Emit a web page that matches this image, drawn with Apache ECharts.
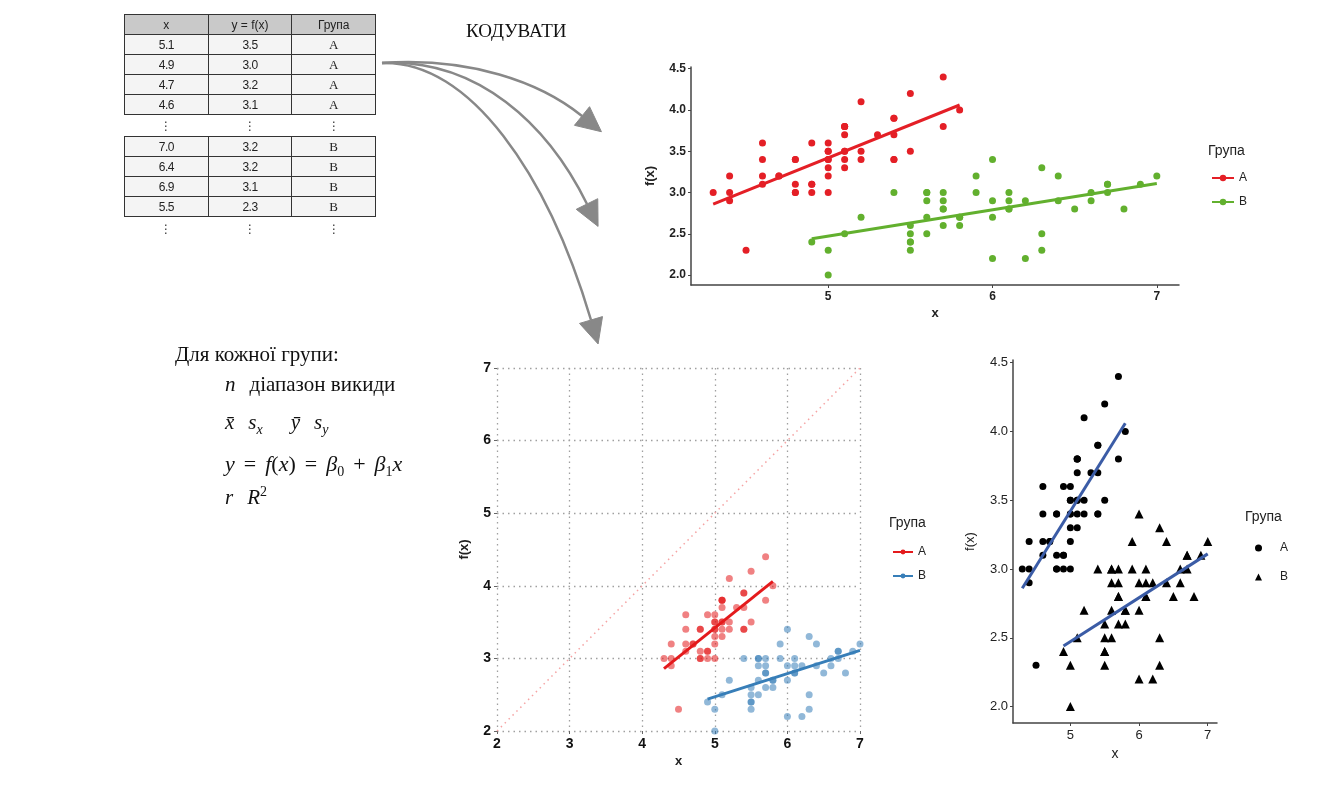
<!DOCTYPE html>
<html>
<head>
<meta charset="utf-8">
<title>Кодувати</title>
<script src="https://cdn.jsdelivr.net/npm/echarts@6/dist/echarts.min.js"></script>
<style>
  body { margin: 0; background: #fff; }
  #page { position: relative; width: 1319px; height: 800px; overflow: hidden; background: #fff; }
  .layer { position: absolute; left: 0; top: 0; width: 1319px; height: 800px; }
  table.src { position: absolute; border-collapse: collapse; table-layout: fixed; width: 252px; z-index: 5;
              font-family: 'Liberation Sans', Arial, sans-serif; font-size: 12px; color: #222; }
  table.src td, table.src th { border: 1.5px solid #333; height: 19px; padding: 0; text-align: center; background: #f4f4f4; letter-spacing: -0.5px; }
  table.src th { background: #c9c9c9; font-weight: normal; letter-spacing: 0; }
  table.src td.g { font-family: 'Liberation Serif', serif; font-size: 13px; letter-spacing: 0; }
  .dots { position: absolute; z-index: 5; font-family: 'DejaVu Sans', sans-serif; font-size: 12px; color: #333; width: 20px; text-align: center; line-height: 16px; }
  .txt { position: absolute; z-index: 5; font-family: 'Liberation Serif', serif; color: #111; white-space: nowrap; }
  .m { font-size: 21px; }
  .m i { font-style: italic; }
  .m sub, .m sup { font-size: 14px; }
  .op { padding: 0 9px; }
  .gap { display: inline-block; width: 14px; }
</style>
</head>
<body>
<div id="page">
  <div id="bg" class="layer"></div>
  <div id="c1" class="layer"></div>
  <div id="c2" class="layer"></div>
  <div id="c3" class="layer"></div>

  <table class="src" id="t1" style="left:124px;top:14px"></table>
  <table class="src" id="t2" style="left:124px;top:136px"></table>

  <div class="txt" style="left:175px;top:342px;font-size:21px">Для кожної групи:</div>
  <div class="txt m" style="left:225px;top:372px"><i>n</i><span class="gap"></span>діапазон викиди</div>
  <div class="txt m" style="left:225px;top:410px"><i>x̄</i><span class="gap"></span><i>s<sub>x</sub></i><span class="gap"></span><span class="gap"></span><i>ȳ</i><span class="gap"></span><i>s<sub>y</sub></i></div>
  <div class="txt m" style="left:225px;top:451px;font-size:22px"><i>y</i><span class="op">=</span><i>f</i>(<i>x</i>)<span class="op">=</span><i>β</i><sub>0</sub><span class="op">+</span><i>β</i><sub>1</sub><i>x</i></div>
  <div class="txt m" style="left:225px;top:484px"><i>r</i><span class="gap"></span><i>R</i><sup>2</sup></div>
</div>

<script>
// table rows shown at the top left
const headRow = ['x', 'y = f(x)', 'Група'];
const topRows = [['5.1', '3.5', 'A'], ['4.9', '3.0', 'A'], ['4.7', '3.2', 'A'], ['4.6', '3.1', 'A']];
const bottomRows = [['7.0', '3.2', 'B'], ['6.4', '3.2', 'B'], ['6.9', '3.1', 'B'], ['5.5', '2.3', 'B']];

// group A (x, f(x))
const aX = [5.1,4.9,4.7,4.6,5.0,5.4,4.6,5.0,4.4,4.9,5.4,4.8,4.8,4.3,5.8,5.7,5.4,5.1,5.7,5.1,5.4,5.1,4.6,5.1,4.8,
            5.0,5.0,5.2,5.2,4.7,4.8,5.4,5.2,5.5,4.9,5.0,5.5,4.9,4.4,5.1,5.0,4.5,4.4,5.0,5.1,4.8,5.1,4.6,5.3,5.0];
const aY = [3.5,3.0,3.2,3.1,3.6,3.9,3.4,3.4,2.9,3.1,3.7,3.4,3.0,3.0,4.0,4.4,3.9,3.5,3.8,3.8,3.4,3.7,3.6,3.3,3.4,
            3.0,3.4,3.5,3.4,3.2,3.1,3.4,4.1,4.2,3.1,3.2,3.5,3.6,3.0,3.4,3.5,2.3,3.2,3.5,3.8,3.0,3.8,3.2,3.7,3.3];
// group B (x, f(x))
const bX = [7.0,6.4,6.9,5.5,6.5,5.7,6.3,4.9,6.6,5.2,5.0,5.9,6.0,6.1,5.6,6.7,5.6,5.8,6.2,5.6,5.9,6.1,6.3,6.1,6.4,
            6.6,6.8,6.7,6.0,5.7,5.5,5.5,5.8,6.0,5.4,6.0,6.7,6.3,5.6,5.5,5.5,6.1,5.8,5.0,5.6,5.7,5.7,6.2,5.1,5.7];
const bY = [3.2,3.2,3.1,2.3,2.8,2.8,3.3,2.4,2.9,2.7,2.0,3.0,2.2,2.9,2.9,3.1,3.0,2.7,2.2,2.5,3.2,2.8,2.5,2.8,2.9,
            3.0,2.8,3.0,2.9,2.6,2.4,2.4,2.7,2.7,3.0,3.4,3.1,2.3,3.0,2.5,2.6,3.0,2.6,2.3,2.7,3.0,2.9,2.9,2.5,2.8];

// fitted lines, end points
const fitA = [[4.3, 2.86], [5.8, 4.06]];
const fitB = [[4.9, 2.44], [7.0, 3.11]];
const diag = [[2, 2], [7, 7]];

// tick labels
const xTicks = [5, 6, 7];
const yTicks = [2.0, 2.5, 3.0, 3.5, 4.0, 4.5];

const groups = ['A', 'B'];

const ptsA = aX.map((x, i) => [x, aY[i]]);
const ptsB = bX.map((x, i) => [x, bY[i]]);

function fillTable(id, rows, head) {
    let html = '';
    if (head) html += '<tr>' + head.map(h => '<th>' + h + '</th>').join('') + '</tr>';
    rows.forEach(r => {
        html += '<tr><td>' + r[0] + '</td><td>' + r[1] + '</td><td class="g">' + r[2] + '</td></tr>';
    });
    document.getElementById(id).innerHTML = html;
}
fillTable('t1', topRows, headRow);
fillTable('t2', bottomRows, null);

// vertical ellipsis under each column
[[156, 118], [240, 118], [324, 118], [156, 221], [240, 221], [324, 221]].forEach(p => {
    let d = document.createElement('div');
    d.className = 'dots';
    d.style.left = p[0] + 'px';
    d.style.top = p[1] + 'px';
    d.textContent = '⋮';
    document.getElementById('page').appendChild(d);
});

const font = 'Liberation Sans';

// ---- background: arrows and caption ----
let bg = echarts.init(document.getElementById('bg'));
let arrows = [
    { p0: [382, 63], c1: [470, 57], c2: [540, 82], p3: [582, 116] },
    { p0: [382, 63], c1: [478, 58], c2: [548, 125], p3: [587, 204] },
    { p0: [382, 63], c1: [470, 60], c2: [548, 175], p3: [591, 320] }
];
let bgGraphic = [{
    type: 'text', left: 466, top: 23,
    style: { text: 'КОДУВАТИ', font: '19px "Liberation Serif"', fill: '#111' }
}];
arrows.forEach(a => {
    bgGraphic.push({
        type: 'bezierCurve',
        shape: { x1: a.p0[0], y1: a.p0[1], cpx1: a.c1[0], cpy1: a.c1[1], cpx2: a.c2[0], cpy2: a.c2[1], x2: a.p3[0], y2: a.p3[1] },
        style: { stroke: '#888', lineWidth: 2.5, fill: null }
    });
    let dx = a.p3[0] - a.c2[0], dy = a.p3[1] - a.c2[1];
    let len = Math.sqrt(dx * dx + dy * dy);
    dx /= len; dy /= len;
    let tip = [a.p3[0] + dx * 25, a.p3[1] + dy * 25];
    bgGraphic.push({
        type: 'polygon',
        shape: { points: [tip, [a.p3[0] - dy * 12, a.p3[1] + dx * 12], [a.p3[0] + dy * 12, a.p3[1] - dx * 12]] },
        style: { fill: '#888', stroke: '#888', lineWidth: 1 }
    });
});
bg.setOption({ animation: false, graphic: bgGraphic });

// ---- chart 1: coloured groups ----
const red1 = '#e41f26', green1 = '#62b02e';
let c1 = echarts.init(document.getElementById('c1'));
c1.setOption({
    animation: false,
    textStyle: { fontFamily: font },
    title: { text: 'Група', left: 1203, top: 139, textStyle: { fontSize: 14, fontWeight: 'normal', color: '#222', fontFamily: font } },
    legend: {
        orient: 'vertical', left: 1206, top: 167, itemWidth: 22, itemHeight: 8, itemGap: 12,
        textStyle: { fontSize: 12, color: '#222' }, data: groups
    },
    grid: { left: 691, top: 67, width: 488, height: 218 },
    xAxis: {
        type: 'value', min: 4.165, max: 7.135, name: 'x', nameLocation: 'middle', nameGap: 22,
        nameTextStyle: { fontSize: 13, color: '#222', fontWeight: 'bold' },
        axisLine: { lineStyle: { color: '#444', width: 1.5 } },
        axisTick: { customValues: xTicks, length: 3, lineStyle: { color: '#444' } },
        axisLabel: { customValues: xTicks, color: '#222', fontSize: 12, fontWeight: 'bold', margin: 6 },
        splitLine: { show: false }
    },
    yAxis: {
        type: 'value', min: 1.88, max: 4.52, name: 'f(x)', nameLocation: 'middle', nameGap: 34,
        nameTextStyle: { fontSize: 13, color: '#222', fontWeight: 'bold' },
        axisLine: { show: true, lineStyle: { color: '#444', width: 1.5 } },
        axisTick: { show: true, customValues: yTicks, length: 3, lineStyle: { color: '#444' } },
        axisLabel: { customValues: yTicks, color: '#222', fontSize: 12, fontWeight: 'bold', margin: 5, formatter: v => v.toFixed(1) },
        splitLine: { show: false }
    },
    series: [
        { name: 'A', type: 'line', data: fitA, symbol: 'circle', symbolSize: 7, showSymbol: false, lineStyle: { width: 3, color: red1 }, itemStyle: { color: red1 }, z: 3 },
        { name: 'B', type: 'line', data: fitB, symbol: 'circle', symbolSize: 7, showSymbol: false, lineStyle: { width: 3, color: green1 }, itemStyle: { color: green1 }, z: 3 },
        { name: 'A', type: 'scatter', data: ptsA, symbolSize: 7, itemStyle: { color: red1, opacity: 1 } },
        { name: 'B', type: 'scatter', data: ptsB, symbolSize: 7, itemStyle: { color: green1, opacity: 1 } }
    ]
});

// ---- chart 2: square axes with y = x ----
const red2 = '#e41a1c', blue2 = '#377eb8';
let c2 = echarts.init(document.getElementById('c2'));
let sqAxis = {
    type: 'value', min: 2, max: 7, interval: 1, nameLocation: 'middle',
    nameTextStyle: { fontSize: 13, color: '#222', fontWeight: 'bold' },
    axisLine: { show: false },
    axisTick: { show: true, length: 3, lineStyle: { color: '#666' } },
    axisLabel: { color: '#111', fontSize: 14, fontWeight: 'bold', margin: 6 },
    splitLine: { show: true, lineStyle: { type: [1.5, 4], color: '#a0a0a0', width: 1.3 } }
};
c2.setOption({
    animation: false,
    textStyle: { fontFamily: font },
    title: { text: 'Група', left: 884, top: 511, textStyle: { fontSize: 14, fontWeight: 'normal', color: '#222', fontFamily: font } },
    legend: {
        orient: 'vertical', left: 887, top: 541, itemWidth: 20, itemHeight: 6, itemGap: 12,
        textStyle: { fontSize: 12, color: '#222' }, data: groups
    },
    grid: { left: 497, top: 368, width: 363, height: 363 },
    xAxis: Object.assign({}, sqAxis, { name: 'x', nameGap: 24 }),
    yAxis: Object.assign({}, sqAxis, { name: 'f(x)', nameGap: 26 }),
    series: [
        { name: 'A', type: 'line', data: fitA, symbol: 'circle', symbolSize: 4, showSymbol: false, lineStyle: { width: 3, color: red2 }, itemStyle: { color: red2 }, z: 3 },
        { name: 'B', type: 'line', data: fitB, symbol: 'circle', symbolSize: 4, showSymbol: false, lineStyle: { width: 3, color: blue2 }, itemStyle: { color: blue2 }, z: 3 },
        { name: 'diag', type: 'line', data: diag, symbol: 'none', lineStyle: { type: [1.5, 4], width: 1.5, color: '#f5a3a3' }, z: 1 },
        { name: 'A', type: 'scatter', data: ptsA, symbolSize: 7, itemStyle: { color: red2, opacity: 0.55 } },
        { name: 'B', type: 'scatter', data: ptsB, symbolSize: 7, itemStyle: { color: blue2, opacity: 0.55 } }
    ]
});

// ---- chart 3: black shapes ----
const blue3 = '#3b5ca6';
let c3 = echarts.init(document.getElementById('c3'));
c3.setOption({
    animation: false,
    textStyle: { fontFamily: font },
    title: { text: 'Група', left: 1240, top: 505, textStyle: { fontSize: 14, fontWeight: 'normal', color: '#222', fontFamily: font } },
    legend: {
        orient: 'vertical', left: 1250, top: 537, itemWidth: 7, itemHeight: 7, itemGap: 17,
        textStyle: { fontSize: 12, color: '#222', padding: [0, 0, 0, 13] },
        data: [{ name: 'A', icon: 'circle' }, { name: 'B', icon: 'triangle' }]
    },
    grid: { left: 1013, top: 360, width: 204, height: 363 },
    xAxis: {
        type: 'value', min: 4.165, max: 7.135, name: 'x', nameLocation: 'middle', nameGap: 24,
        nameTextStyle: { fontSize: 14, color: '#222' },
        axisLine: { lineStyle: { color: '#444', width: 1.5 } },
        axisTick: { customValues: xTicks, length: 3, lineStyle: { color: '#444' } },
        axisLabel: { customValues: xTicks, color: '#222', fontSize: 13, margin: 6 },
        splitLine: { show: false }
    },
    yAxis: {
        type: 'value', min: 1.88, max: 4.52, name: 'f(x)', nameLocation: 'middle', nameGap: 36,
        nameTextStyle: { fontSize: 13, color: '#222' },
        axisLine: { show: true, lineStyle: { color: '#444', width: 1.5 } },
        axisTick: { show: true, customValues: yTicks, length: 3, lineStyle: { color: '#444' } },
        axisLabel: { customValues: yTicks, color: '#222', fontSize: 13, margin: 5, formatter: v => v.toFixed(1) },
        splitLine: { show: false }
    },
    series: [
        { name: 'A', type: 'scatter', data: ptsA, symbol: 'circle', symbolSize: 7, itemStyle: { color: '#000', opacity: 1 } },
        { name: 'B', type: 'scatter', data: ptsB, symbol: 'triangle', symbolSize: 9, itemStyle: { color: '#000', opacity: 1 } },
        { name: 'fitA', type: 'line', data: fitA, symbol: 'none', lineStyle: { width: 3, color: blue3 }, z: 3 },
        { name: 'fitB', type: 'line', data: fitB, symbol: 'none', lineStyle: { width: 3, color: blue3 }, z: 3 }
    ]
});
</script>
</body>
</html>
